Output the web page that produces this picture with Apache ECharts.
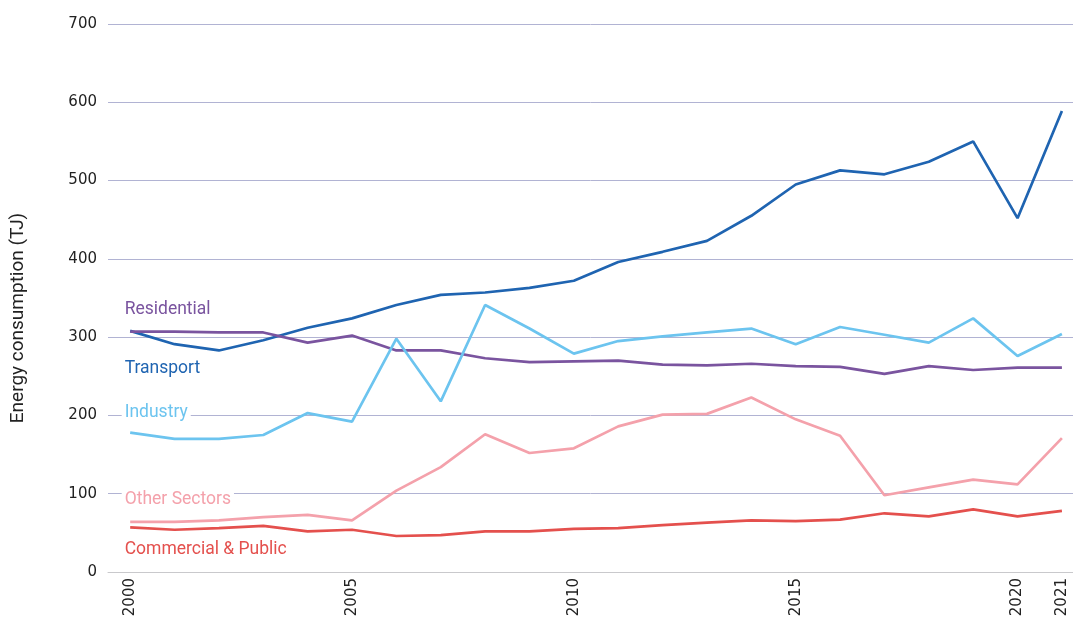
<!DOCTYPE html>
<html>
<head>
<meta charset="utf-8">
<script src="https://cdn.jsdelivr.net/npm/echarts@6/dist/echarts.min.js"></script>
<style>html,body{margin:0;padding:0;background:#fff}#c{width:1073px;height:630px}</style>
</head>
<body>
<div id="c"></div>
<script>
const years = [2000,2001,2002,2003,2004,2005,2006,2007,2008,2009,2010,2011,2012,2013,2014,2015,2016,2017,2018,2019,2020,2021];
const xTickLabels = [2000,2005,2010,2015,2020,2021];
const yTicks = [0,100,200,300,400,500,600,700];
const transport   = [308,291,283,296,312,324,341,354,357,363,372,396,409,423,455,495,513,508,524,550,452,589];
const residential = [307,307,306,306,293,302,283,283,273,268,269,270,265,264,266,263,262,253,263,258,261,261];
const industry    = [178,170,170,175,203,192,298,218,341,311,279,295,301,306,311,291,313,303,293,324,276,304];
const otherSectors= [64,64,66,70,73,66,104,134,176,152,158,186,201,202,223,195,174,98,108,118,112,171];
const commercial  = [57,54,56,59,52,54,46,47,52,52,55,56,60,63,66,65,67,75,71,80,71,78];
const seriesNames = ['Transport','Residential','Industry','Other Sectors','Commercial & Public'];
const seriesValues = [transport, residential, industry, otherSectors, commercial];
const labelValues = [260, 335, 203, 92, 28];
const colors = ['#1f64b1','#7a549f','#6cc4ef','#f4a1ab','#e4504d'];

const labelFont = "Roboto, sans-serif";
const chart = echarts.init(document.getElementById('c'), null, {renderer:'canvas'});
const series = seriesNames.map((name, i) => ({
  name: name,
  type: 'line',
  data: years.map((y, k) => [y, seriesValues[i][k]]),
  symbol: 'none',
  lineStyle: {width: 2.7, color: colors[i]},
  itemStyle: {color: colors[i]},
  z: 3,
  markPoint: {
    symbol: 'circle', symbolSize: 1,
    itemStyle: {color: 'rgba(0,0,0,0)'},
    data: [{coord: [years[0], labelValues[i]], value: name}],
    label: {
      show: true, formatter: name, position: 'right', distance: 0, offset: [-9, 0],
      color: colors[i], fontFamily: labelFont, fontSize: 17.5,
      backgroundColor: '#fff', padding: [1, 3]
    }
  }
}));

chart.setOption({
  animation: false,
  grid: {left: 108, right: 0, top: 24, bottom: 58},
  xAxis: {
    type: 'value', min: 1999.5, max: 2021.25, interval: 0.25,
    axisLine: {show: true, lineStyle: {color: '#c9c9cc', width: 1}}, axisTick: {show: false}, splitLine: {show: false},
    axisLabel: {
      rotate: 90, margin: 6, color: '#222', fontFamily: 'DejaVu Sans', fontSize: 15,
      formatter: v => xTickLabels.includes(v) ? String(v) : ''
    }
  },
  yAxis: {
    type: 'value', min: yTicks[0], max: yTicks[yTicks.length-1], interval: 100,
    axisLine: {show: false}, axisTick: {show: false},
    splitLine: {lineStyle: {color: '#b1b3d3', width: 1}},
    axisLabel: {margin: 11, color: '#222', fontFamily: 'DejaVu Sans', fontSize: 15}
  },
  graphic: [{
    type: 'text', x: 18, y: 318, rotation: Math.PI/2,
    style: {text: 'Energy consumption (TJ)', fill: '#222', font: "19px " + labelFont, textAlign: 'center', textVerticalAlign: 'middle'}
  }],
  series: series
});
</script>
</body>
</html>
